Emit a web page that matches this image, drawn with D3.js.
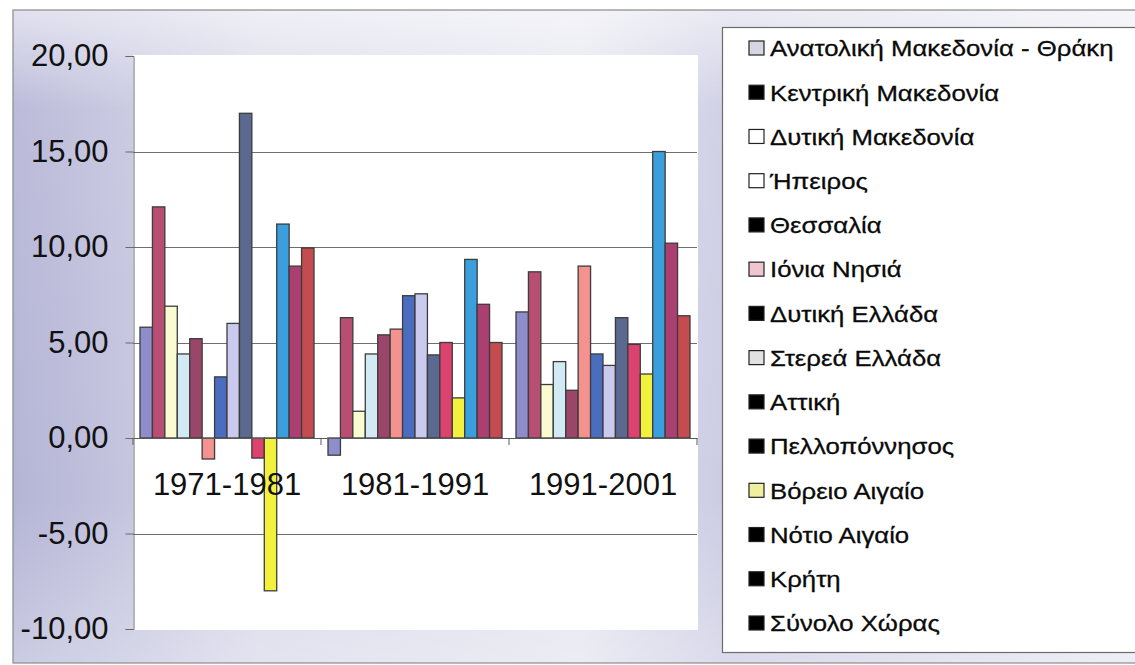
<!DOCTYPE html>
<html>
<head>
<meta charset="utf-8">
<script src="https://cdn.jsdelivr.net/npm/d3@7/dist/d3.min.js"></script>
<style>
  html, body { margin: 0; padding: 0; background: #ffffff; }
  svg { display: block; font-family: "Liberation Sans", Arial, sans-serif; }
</style>
</head>
<body>
<svg id="chart" width="1135" height="665"></svg>
<script>
// Periods on the category axis
const periods = ["1971-1981", "1981-1991", "1991-2001"];

// Regions (one bar per region in each period)
const regions = [
  "Ανατολική Μακεδονία - Θράκη",
  "Κεντρική Μακεδονία",
  "Δυτική Μακεδονία",
  "Ήπειρος",
  "Θεσσαλία",
  "Ιόνια Νησιά",
  "Δυτική Ελλάδα",
  "Στερεά Ελλάδα",
  "Αττική",
  "Πελλοπόννησος",
  "Βόρειο Αιγαίο",
  "Νότιο Αιγαίο",
  "Κρήτη",
  "Σύνολο Χώρας"
];

// Population change (%) per region, one array per period
const values1971_1981 = [5.8, 12.1, 6.9, 4.4, 5.2, -1.1, 3.2, 6.0, 17.0, -1.05, -8.0, 11.2, 9.0, 9.95];
const values1981_1991 = [-0.9, 6.3, 1.4, 4.4, 5.4, 5.7, 7.45, 7.55, 4.35, 5.0, 2.1, 9.35, 7.0, 5.0];
const values1991_2001 = [6.6, 8.7, 2.8, 4.0, 2.5, 9.0, 4.4, 3.8, 6.3, 4.9, 3.35, 15.0, 10.2, 6.4];

// Value axis ticks
const yTicks = [-10, -5, 0, 5, 10, 15, 20];

// Bar fill colours, one per region
const barColors = [
  "#8e8ecc", "#b84f72", "#fbfbd2", "#d2eaf4", "#9a4669", "#f49290", "#4b6dc0",
  "#cacaee", "#5b6991", "#dc426e", "#f2f23e", "#3a9fdc", "#ac3f72", "#c44c50"
];
// Legend key fills
const keyFills = [
  "#d6d6e2", "#000000", "#ffffff", "#ffffff", "#000000", "#efc6cf", "#000000",
  "#e2e2e2", "#000000", "#000000", "#eef0a0", "#000000", "#000000", "#000000"
];

const periodValues = [values1971_1981, values1981_1991, values1991_2001];
const table = periods.map((p, i) => ({
  period: p,
  bars: regions.map((r, j) => ({ region: j, value: periodValues[i][j] }))
}));

const svg = d3.select("#chart");
const W = 1135, H = 665;

// Background gradient of the chart area
const defs = svg.append("defs");
const bg = defs.append("linearGradient").attr("id", "bgGrad")
  .attr("x1", "0%").attr("y1", "0%").attr("x2", "100%").attr("y2", "0%");
bg.append("stop").attr("offset", "0%").attr("stop-color", "#b4b4d6");
bg.append("stop").attr("offset", "22%").attr("stop-color", "#d8d8ea");
bg.append("stop").attr("offset", "50%").attr("stop-color", "#e4e4ef");
bg.append("stop").attr("offset", "63%").attr("stop-color", "#cbcbe3");
bg.append("stop").attr("offset", "100%").attr("stop-color", "#e8e8f2");
const bgV = defs.append("linearGradient").attr("id", "bgVert")
  .attr("x1", "0%").attr("y1", "0%").attr("x2", "0%").attr("y2", "100%");
bgV.append("stop").attr("offset", "0%").attr("stop-color", "#ffffff").attr("stop-opacity", 0.6);
bgV.append("stop").attr("offset", "15%").attr("stop-color", "#ffffff").attr("stop-opacity", 0.1);
bgV.append("stop").attr("offset", "75%").attr("stop-color", "#ffffff").attr("stop-opacity", 0.0);
bgV.append("stop").attr("offset", "100%").attr("stop-color", "#ffffff").attr("stop-opacity", 0.3);

svg.append("rect").attr("x", 0).attr("y", 0).attr("width", W).attr("height", H).attr("fill", "#ffffff");
svg.append("rect").attr("x", 13).attr("y", 10).attr("width", W).attr("height", 653)
  .attr("fill", "url(#bgGrad)");
svg.append("rect").attr("x", 13).attr("y", 10).attr("width", W).attr("height", 653)
  .attr("fill", "url(#bgVert)").attr("stroke", "#8a8a8a").attr("stroke-width", 1.2);

// Plot area
const plot = { left: 133, right: 697, top: 56, bottom: 629 };
svg.append("rect").attr("x", plot.left).attr("y", plot.top - 1)
  .attr("width", plot.right - plot.left + 1).attr("height", plot.bottom - plot.top + 2)
  .attr("fill", "#ffffff");

const y = d3.scaleLinear().domain([-10, 20]).range([plot.bottom, plot.top]);
const x0 = d3.scaleBand().domain(periods).range([plot.left, plot.right]).padding(0);
const x1 = d3.scaleBand().domain(d3.range(regions.length))
  .range([7, x0.bandwidth() - 7]).padding(0);

const grLocale = d3.formatLocale({ decimal: ",", thousands: ".", grouping: [3], currency: ["", "€"], minus: "-" });
const fmt = grLocale.format(".2f");

// Gridlines (excluding the outer limits and the zero axis)
svg.append("g").selectAll("line")
  .data(yTicks.filter(t => t !== 0 && t !== 20 && t !== -10))
  .join("line")
  .attr("x1", plot.left).attr("x2", plot.right)
  .attr("y1", d => Math.round(y(d)) + 0.5).attr("y2", d => Math.round(y(d)) + 0.5)
  .attr("stroke", "#6e6e6e").attr("stroke-width", 1);

// Value axis
const yAxis = d3.axisLeft(y).tickValues(yTicks).tickFormat(fmt).tickSize(8).tickPadding(17);
const gy = svg.append("g").attr("transform", `translate(${plot.left + 0.5},0)`).call(yAxis);
gy.select(".domain").attr("stroke", "#6a6a6a");
gy.selectAll(".tick line").attr("stroke", "#6a6a6a");
gy.selectAll(".tick text").attr("font-size", 31).attr("fill", "#111")
  .attr("font-family", "'Liberation Sans', Arial, sans-serif");

// Bars
const groups = svg.append("g").selectAll("g")
  .data(table).join("g")
  .attr("transform", d => `translate(${x0(d.period)},0)`);
groups.selectAll("rect")
  .data(d => d.bars).join("rect")
  .attr("x", d => x1(d.region))
  .attr("width", x1.bandwidth())
  .attr("y", d => y(Math.max(0, d.value)))
  .attr("height", d => Math.abs(y(d.value) - y(0)))
  .attr("fill", d => barColors[d.region])
  .attr("stroke", "#3c3c3c").attr("stroke-width", 1.3);

// Category axis along zero
const xAxis = d3.axisBottom(x0).tickSize(0).tickFormat(() => "");
const gx = svg.append("g").attr("transform", `translate(0,${y(0)})`).call(xAxis);
gx.select(".domain").attr("stroke", "#5a5a5a");
svg.append("g").selectAll("line")
  .data(periods.map(p => x0(p)).concat([x0(periods[periods.length - 1]) + x0.bandwidth()]))
  .join("line")
  .attr("x1", d => d).attr("x2", d => d)
  .attr("y1", y(0)).attr("y2", y(0) + 7)
  .attr("stroke", "#5a5a5a");

// Category labels
svg.append("g").selectAll("text")
  .data(periods).join("text")
  .attr("x", d => x0(d) + x0.bandwidth() / 2)
  .attr("y", y(0) + 57)
  .attr("text-anchor", "middle")
  .attr("font-size", 31)
  .attr("fill", "#111")
  .text(d => d);

// Legend
const legend = svg.append("g");
legend.append("rect").attr("x", 722.5).attr("y", 27.5).attr("width", 500).attr("height", 625)
  .attr("fill", "#ffffff").attr("stroke", "#6c6c6c").attr("stroke-width", 1.2);
const ly = d3.scalePoint().domain(d3.range(regions.length)).range([48, 623]);
const items = legend.selectAll("g.item").data(regions).join("g")
  .attr("class", "item")
  .attr("transform", (d, i) => `translate(0,${ly(i)})`);
items.append("rect")
  .attr("x", 749).attr("y", -7).attr("width", 15).attr("height", 14)
  .attr("fill", (d, i) => keyFills[i])
  .attr("stroke", "#222").attr("stroke-width", 1.2);
items.append("text")
  .attr("transform", "translate(770,0) scale(1.12,1)")
  .attr("dy", "0.36em")
  .attr("font-size", 23).attr("fill", "#0a0a0a")
  .attr("stroke", "#0a0a0a").attr("stroke-width", 0.3)
  .text(d => d);
</script>
</body>
</html>
